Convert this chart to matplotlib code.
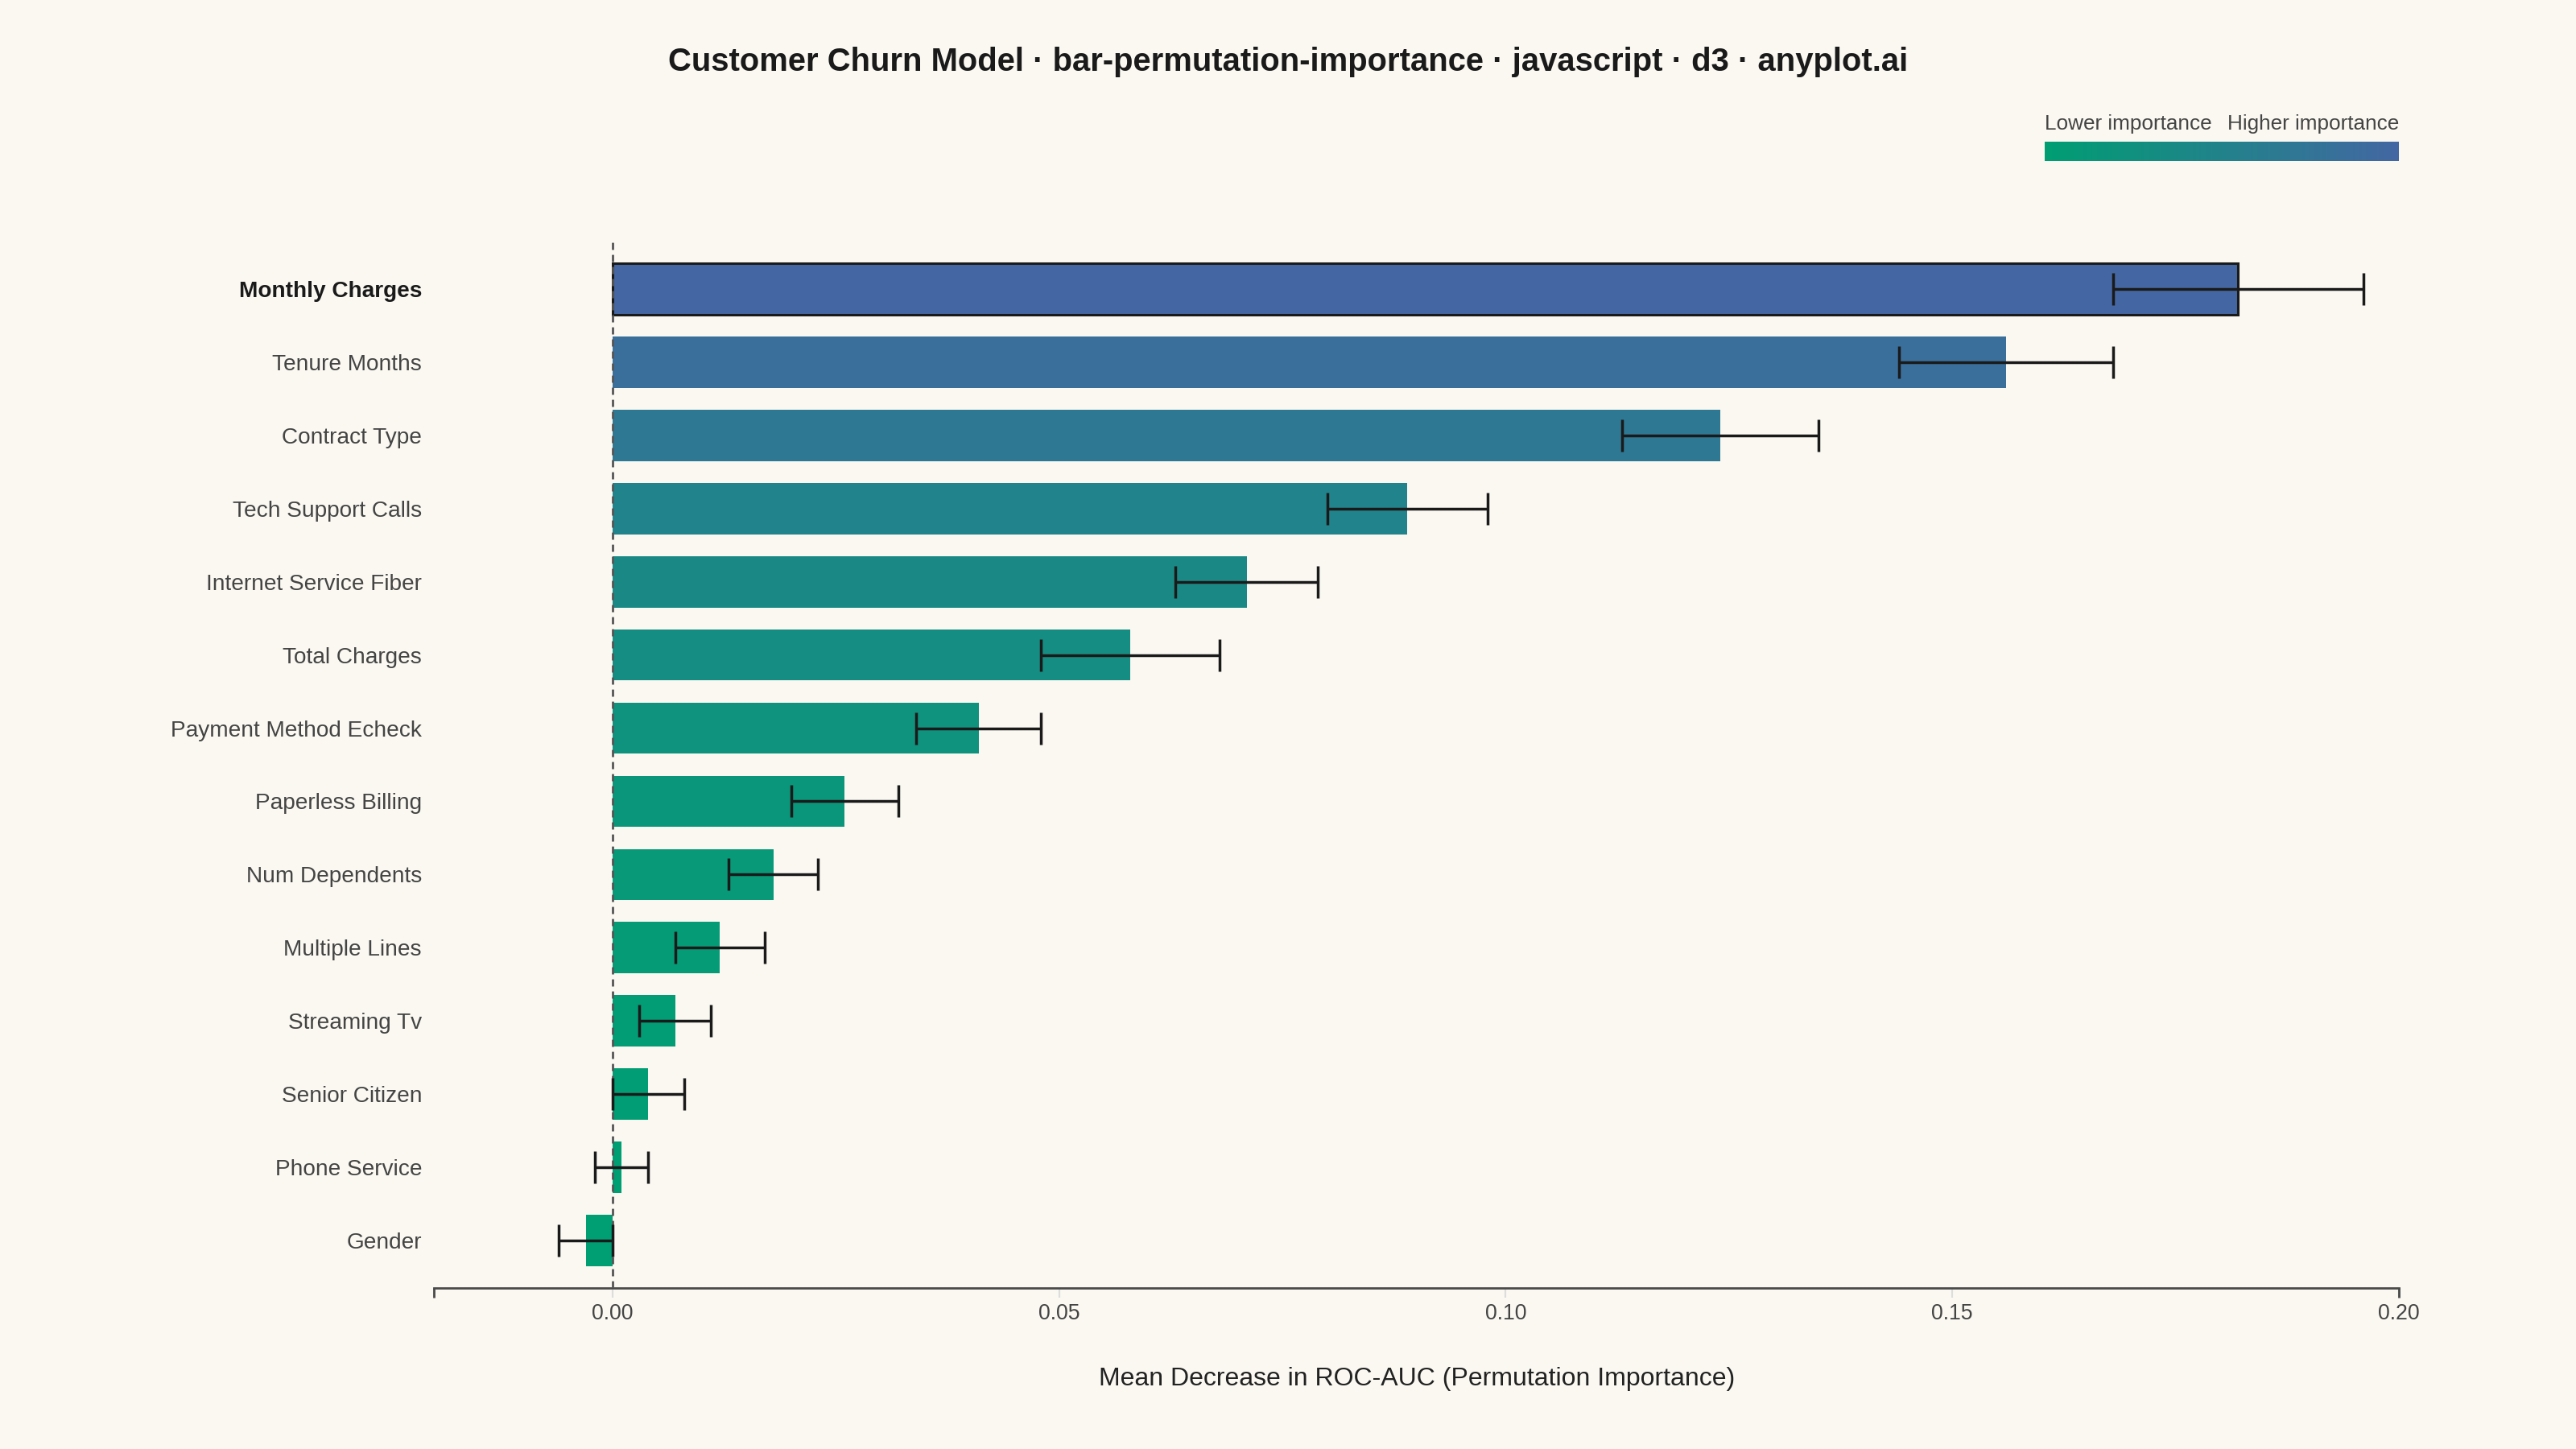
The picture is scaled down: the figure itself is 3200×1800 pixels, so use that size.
import numpy as np
import matplotlib
matplotlib.use("Agg")
import matplotlib.pyplot as plt
from matplotlib.colors import LinearSegmentedColormap, Normalize

#------------- Data -------------#
features = ["Monthly Charges", "Tenure Months", "Contract Type", "Tech Support Calls",
            "Internet Service Fiber", "Total Charges", "Payment Method Echeck",
            "Paperless Billing", "Num Dependents", "Multiple Lines", "Streaming Tv",
            "Senior Citizen", "Phone Service", "Gender"]
importance_mean = [0.182, 0.156, 0.124, 0.089, 0.071, 0.058, 0.041,
                   0.026, 0.018, 0.012, 0.007, 0.004, 0.001, -0.003]
importance_std = [0.014, 0.012, 0.011, 0.009, 0.008, 0.010, 0.007,
                  0.006, 0.005, 0.005, 0.004, 0.004, 0.003, 0.003]
xticks = [0.0, 0.05, 0.10, 0.15, 0.20]
xlim = (-0.02, 0.20)

#------------- Style -------------#
bg = "#faf8f1"
low_col, high_col = "#009e73", "#4467a3"
plt.rcParams["font.family"] = ["Liberation Sans", "DejaVu Sans"]

cmap = LinearSegmentedColormap.from_list("imp", [low_col, high_col])
norm = Normalize(vmin=0, vmax=max(importance_mean))
colors = [cmap(norm(max(v, 0))) for v in importance_mean]

fig = plt.figure(figsize=(16, 9), dpi=200, facecolor=bg)
ax = fig.add_axes([539 / 3200, 1 - 1600 / 1800, (2980 - 539) / 3200, 1300 / 1800])
ax.set_facecolor(bg)

y = np.arange(len(features))
bars = ax.barh(y, importance_mean, height=0.7, color=colors, zorder=2)
# highlight the top feature
bars[0].set_edgecolor("#1a1a1a")
bars[0].set_linewidth(1.1)

ax.axvline(0, color="#555555", lw=1.0, linestyle=(0, (3.2, 2.2)), zorder=3)

ax.errorbar(importance_mean, y, xerr=importance_std, fmt="none", ecolor="#1a1a1a",
            elinewidth=1.25, capsize=7.2, capthick=1.25, zorder=4)

ax.set_xlim(*xlim)
ax.set_ylim(len(features) - 1 + 0.65, -0.65)

#---------- axes ----------#
for s in ["top", "right", "left"]:
    ax.spines[s].set_visible(False)
ax.spines["bottom"].set_color("#4a4a4a")
ax.spines["bottom"].set_linewidth(1.0)

ax.set_xticks(xticks)
ax.set_xticklabels([f"{t:.2f}" for t in xticks])
ax.tick_params(axis="x", which="major", length=4.3, width=0.8, color="#dddddd",
               labelsize=9.6, labelcolor="#444444", pad=2.5)
ax.set_xticks([xlim[0], xlim[1]], minor=True)
ax.xaxis.remove_overlapping_locs = False
ax.tick_params(axis="x", which="minor", length=4.3, width=1.0, color="#4a4a4a")

ax.set_yticks(y)
ax.set_yticklabels(features)
ax.tick_params(axis="y", length=0, pad=5.4, labelsize=10.1, labelcolor="#444444")
top_lbl = ax.get_yticklabels()[0]
top_lbl.set_fontweight("bold")
top_lbl.set_color("#1a1a1a")

fig.text(1760 / 3200, 1 - 1721 / 1800, "Mean Decrease in ROC-AUC (Permutation Importance)",
         ha="center", va="baseline", fontsize=11.5, color="#222222")

fig.text(0.5, 1 - 88 / 1800,
         "Customer Churn Model · bar-permutation-importance · javascript · d3 · anyplot.ai",
         ha="center", va="baseline", fontsize=14.4, fontweight="bold", color="#1a1a1a")

#---------- gradient legend ----------#
lax = fig.add_axes([2540 / 3200, 1 - 200 / 1800, 440 / 3200, 24 / 1800])
lax.imshow(np.linspace(0, 1, 256)[None, :], aspect="auto", cmap=cmap)
lax.axis("off")
fig.text(2540 / 3200, 1 - 161 / 1800, "Lower importance", ha="left", va="baseline",
         fontsize=9.4, color="#444444")
fig.text(2980 / 3200, 1 - 161 / 1800, "Higher importance", ha="right", va="baseline",
         fontsize=9.4, color="#444444")

plt.savefig("out.png", dpi=200, facecolor=bg)
